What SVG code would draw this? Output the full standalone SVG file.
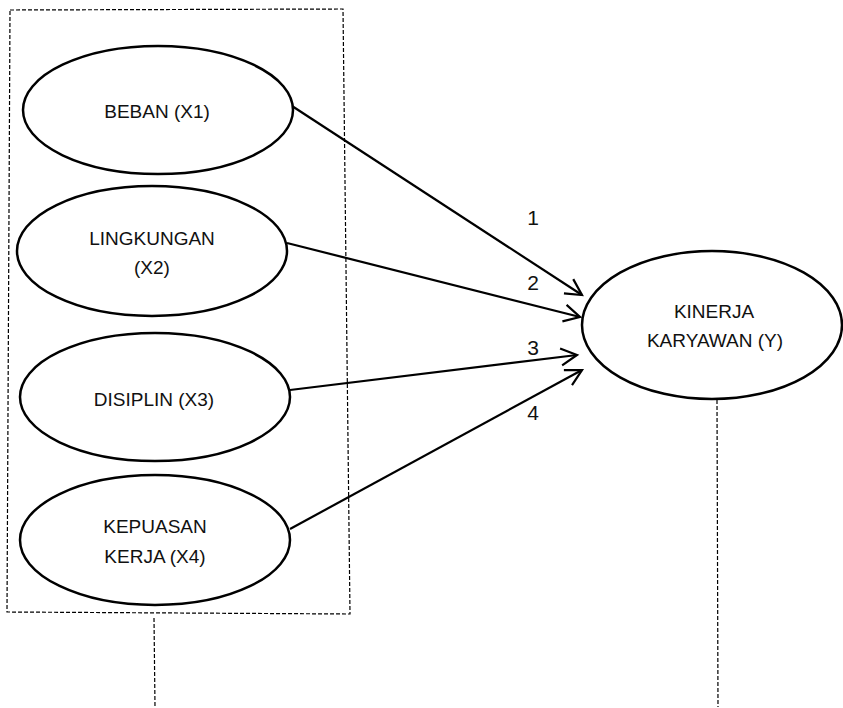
<svg xmlns="http://www.w3.org/2000/svg" width="843" height="708" viewBox="0 0 843 708">
<style>
.node{fill:#fff;stroke:#000;stroke-width:2.5}
.lbl{font-family:"Liberation Sans",Arial,sans-serif;font-size:19px;fill:#111;text-anchor:middle}
.num{font-family:"Liberation Sans",Arial,sans-serif;font-size:21px;fill:#111;text-anchor:middle}
.dash{fill:none;stroke:#000;stroke-width:1.2;stroke-dasharray:4 2}
.conn{stroke:#000;stroke-width:2.2;fill:none}
</style>
<defs>
<marker id="arr" markerUnits="userSpaceOnUse" markerWidth="24" markerHeight="24" viewBox="-20 -12 24 24" refX="0" refY="0" orient="auto" overflow="visible">
<path d="M-16,-8.5 L0,0 L-16,8.5" fill="none" stroke="#000" stroke-width="2.2"/>
</marker>
</defs>
<g id="frame">
<polygon class="dash" points="10,10 343,9 350,614 7,612"/>
<line class="dash" x1="154" y1="618" x2="155" y2="707"/>
<line class="dash" x1="717" y1="400" x2="718" y2="707"/>
</g>
<g id="connectors">
<line class="conn" x1="292" y1="106" x2="582" y2="295" marker-end="url(#arr)"/>
<line class="conn" x1="287" y1="243" x2="580" y2="317" marker-end="url(#arr)"/>
<line class="conn" x1="290" y1="390" x2="577" y2="355" marker-end="url(#arr)"/>
<line class="conn" x1="290" y1="529" x2="582" y2="370" marker-end="url(#arr)"/>
<text class="num" x="533" y="225">1</text>
<text class="num" x="533" y="290">2</text>
<text class="num" x="533" y="355">3</text>
<text class="num" x="533" y="420">4</text>
</g>
<g id="x1">
<ellipse class="node" cx="158" cy="110" rx="135" ry="64"/>
<text class="lbl" x="157" y="118">BEBAN (X1)</text>
</g>
<g id="x2">
<ellipse class="node" cx="152" cy="251" rx="135" ry="65"/>
<text class="lbl" x="152" y="245">LINGKUNGAN</text>
<text class="lbl" x="152" y="274">(X2)</text>
</g>
<g id="x3">
<ellipse class="node" cx="155" cy="397" rx="135" ry="64"/>
<text class="lbl" x="154" y="406">DISIPLIN (X3)</text>
</g>
<g id="x4">
<ellipse class="node" cx="155" cy="540" rx="135" ry="65"/>
<text class="lbl" x="155" y="533">KEPUASAN</text>
<text class="lbl" x="155" y="563">KERJA (X4)</text>
</g>
<g id="y">
<ellipse class="node" cx="712" cy="325" rx="130" ry="74"/>
<text class="lbl" x="714" y="318">KINERJA</text>
<text class="lbl" x="715" y="347">KARYAWAN (Y)</text>
</g>
</svg>
